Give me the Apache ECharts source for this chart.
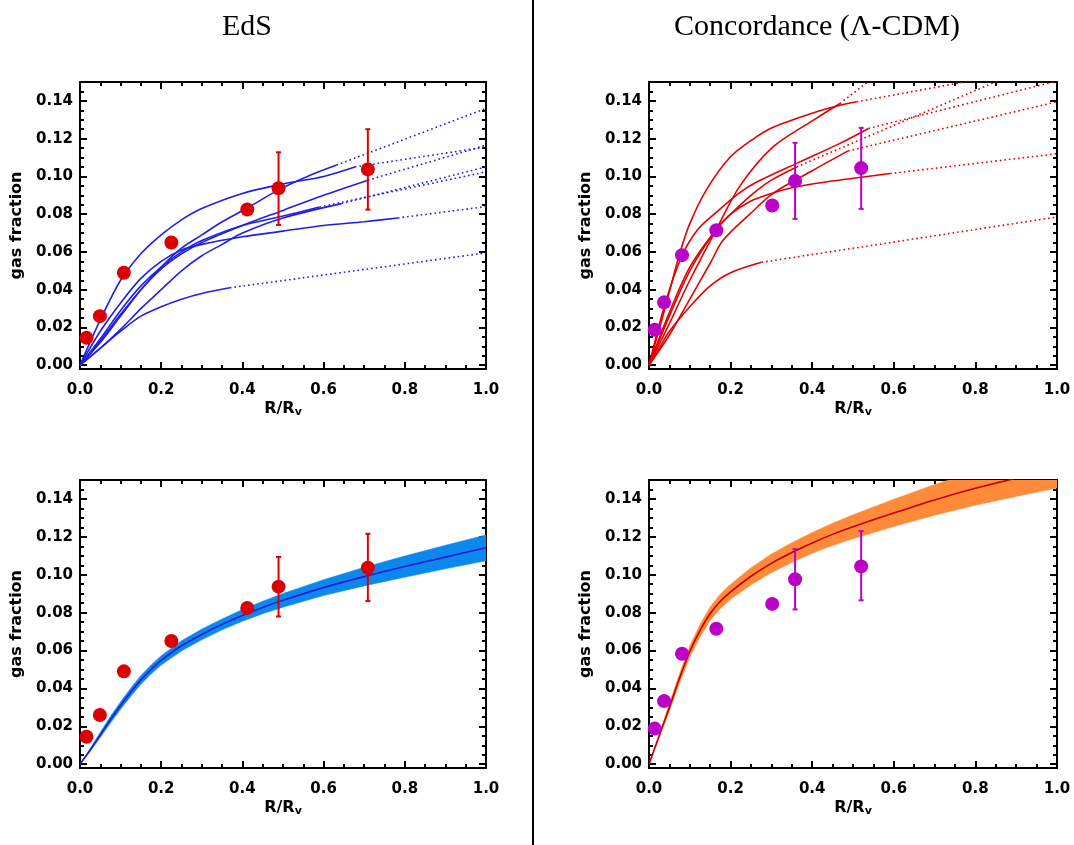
<!DOCTYPE html>
<html>
<head>
<meta charset="utf-8">
<script src="https://cdn.jsdelivr.net/npm/echarts@6/dist/echarts.min.js"></script>
<style>
html,body{margin:0;padding:0;background:#fff;}
#chart{width:1074px;height:845px;}
</style>
</head>
<body>
<div id="chart"></div>
<script>
// ---------------- DATA ----------------
const panelTitles = ['EdS', 'Concordance (\u039B-CDM)'];
const yTickValues = [0.00, 0.02, 0.04, 0.06, 0.08, 0.10, 0.12, 0.14];
const xTickLabels = ['0.0', '0.2', '0.4', '0.6', '0.8', '1.0'];

// EdS observed points
const edsX = [0.016, 0.049, 0.108, 0.225, 0.412, 0.489, 0.709];
const edsY = [0.0145, 0.026, 0.049, 0.065, 0.0825, 0.0937, 0.1037];
const edsErrTop = [[0.489, 0.0743, 0.1128], [0.709, 0.0824, 0.125]];
const edsErrBottom = [[0.489, 0.078, 0.1094], [0.709, 0.0861, 0.1216]];

// Concordance observed points
const concX = [0.014, 0.037, 0.081, 0.165, 0.302, 0.358, 0.52];
const concY = [0.0188, 0.0333, 0.0583, 0.0715, 0.0846, 0.0976, 0.1044];
const concErrTop = [[0.358, 0.0775, 0.1178], [0.52, 0.0828, 0.1257]];
const concErrBottom = [[0.358, 0.0817, 0.1135], [0.52, 0.0865, 0.1231]];

// EdS model curves (solid part) and their dotted extrapolations
const edsCurveA = [[0,0],[0.05,0.024],[0.1,0.045],[0.15,0.059],[0.2,0.069],[0.25,0.077],[0.3,0.083],[0.4,0.091],[0.5,0.096],[0.6,0.1],[0.677,0.105]];
const edsDotA = [[0.677,0.105],[1,0.1156]];
const edsCurveB = [[0,0],[0.05,0.012],[0.1,0.026],[0.15,0.04],[0.2,0.052],[0.25,0.062],[0.3,0.069],[0.35,0.076],[0.41,0.083],[0.49,0.093],[0.56,0.1],[0.632,0.106]];
const edsDotB = [[0.632,0.106],[1,0.136]];
const edsCurveC = [[0,0],[0.05,0.013],[0.1,0.027],[0.15,0.04],[0.2,0.051],[0.25,0.059],[0.3,0.065],[0.4,0.074],[0.5,0.082],[0.6,0.09],[0.709,0.098]];
const edsDotC = [[0.709,0.098],[1,0.1165]];
const edsCurveD = [[0,0],[0.05,0.009],[0.1,0.019],[0.15,0.03],[0.2,0.04],[0.25,0.05],[0.3,0.058],[0.35,0.064],[0.4,0.07],[0.5,0.078],[0.644,0.0856]];
const edsDotD = [[0.644,0.0856],[1,0.105]];
const edsCurveE = [[0,0],[0.05,0.014],[0.1,0.029],[0.15,0.042],[0.2,0.052],[0.25,0.06],[0.3,0.066],[0.4,0.074],[0.5,0.079],[0.59,0.0838]];
const edsDotE = [[0.59,0.0838],[1,0.1024]];
const edsCurveF = [[0,0],[0.05,0.018],[0.1,0.033],[0.15,0.046],[0.2,0.055],[0.25,0.061],[0.3,0.064],[0.4,0.068],[0.5,0.071],[0.6,0.074],[0.7,0.076],[0.783,0.078]];
const edsDotF = [[0.783,0.078],[1,0.084]];
const edsCurveG = [[0,0],[0.05,0.009],[0.1,0.018],[0.15,0.026],[0.2,0.031],[0.25,0.035],[0.3,0.038],[0.369,0.041]];
const edsDotG = [[0.369,0.041],[1,0.0595]];

// Concordance model curves and dotted extrapolations
const concCurve1 = [[0,0],[0.025,0.019],[0.05,0.039],[0.075,0.059],[0.1,0.075],[0.141,0.093],[0.198,0.11],[0.25,0.119],[0.304,0.126],[0.4,0.1335],[0.468,0.1377],[0.509,0.1395]];
const concDot1 = [[0.509,0.1395],[1,0.159]];
const concCurve2 = [[0,0],[0.05,0.022],[0.1,0.045],[0.165,0.072],[0.223,0.095],[0.304,0.1156],[0.403,0.1298],[0.468,0.1386]];
const concDot2 = [[0.468,0.1386],[0.56,0.154]];
const concCurve3 = [[0,0],[0.04,0.033],[0.081,0.058],[0.12,0.072],[0.165,0.081],[0.22,0.091],[0.264,0.097],[0.37,0.1077],[0.468,0.1175],[0.538,0.1254]];
const concDot3 = [[0.538,0.1254],[1,0.1505]];
const concCurve4 = [[0,0],[0.05,0.016],[0.1,0.035],[0.15,0.054],[0.181,0.066],[0.247,0.08],[0.304,0.091],[0.4,0.103],[0.488,0.1135]];
const concDot4 = [[0.488,0.1135],[1,0.1395]];
const concCurve5 = [[0,0],[0.05,0.026],[0.1,0.05],[0.165,0.072],[0.2,0.08],[0.25,0.09],[0.3,0.098],[0.362,0.105]];
const concDot5 = [[0.362,0.105],[1,0.164]];
const concCurve6 = [[0,0],[0.05,0.028],[0.1,0.052],[0.165,0.072],[0.2,0.08],[0.25,0.087],[0.3,0.091],[0.35,0.094],[0.4,0.096],[0.5,0.099],[0.591,0.1015]];
const concDot6 = [[0.591,0.1015],[1,0.112]];
const concCurve7 = [[0,0],[0.025,0.009],[0.05,0.018],[0.1,0.031],[0.15,0.042],[0.2,0.049],[0.276,0.0545]];
const concDot7 = [[0.276,0.0545],[1,0.0785]];

// Best-fit bands (bottom panels)
const bandX = [0, 0.025, 0.05, 0.075, 0.1, 0.125, 0.15, 0.175, 0.2, 0.25, 0.3, 0.35, 0.4, 0.45, 0.5, 0.6, 0.7, 0.8, 0.9, 1.0];
const edsFitMid = [0, 0.0075, 0.0155, 0.0235, 0.031, 0.038, 0.0445, 0.05, 0.0548, 0.0625, 0.0685, 0.0738, 0.0785, 0.0827, 0.0865, 0.0932, 0.099, 0.1043, 0.1093, 0.1142];
const edsFitHalfWidth = [0, 0.0008, 0.0014, 0.0018, 0.002, 0.0022, 0.0023, 0.0024, 0.0025, 0.0027, 0.0028, 0.0029, 0.0031, 0.0033, 0.0036, 0.0042, 0.0049, 0.0056, 0.0062, 0.0068];
const concFitMid = [0, 0.015, 0.03, 0.0455, 0.0595, 0.0705, 0.0795, 0.086, 0.091, 0.0992, 0.106, 0.1117, 0.1168, 0.1213, 0.1253, 0.1326, 0.1395, 0.1456, 0.151, 0.1562];
const concFitHalfWidth = [0, 0.001, 0.002, 0.0025, 0.003, 0.0033, 0.0036, 0.0038, 0.004, 0.0045, 0.0049, 0.0052, 0.0055, 0.0059, 0.0063, 0.0072, 0.0081, 0.0089, 0.0097, 0.0104];

// ---------------- STYLE / LAYOUT ----------------
const BLUE = '#1f1fe6', RED_LINE = '#e50000', RED_PT = '#dd0000', MAG = '#bb00c8';
const grids = [
  {left: 80, top: 82, width: 406, height: 287},
  {left: 649, top: 82, width: 408, height: 287},
  {left: 80, top: 480, width: 406, height: 288},
  {left: 649, top: 480, width: 408, height: 288}
];
const YMIN = -0.002, YMAX = 0.15;
const yMinorValues = [];
for (let i = 0; i <= 30; i++) yMinorValues.push(Math.round(i * 5) / 1000);
const tickFont = {color: '#000', fontFamily: 'DejaVu Sans', fontWeight: 'bold', fontSize: 15};

const xAxes = [], yAxes = [];
grids.forEach((g, gi) => {
  const common = {
    type: 'value', gridIndex: gi, min: 0, max: 1, interval: 0.2,
    axisLine: {show: true, onZero: false, lineStyle: {color: '#000', width: 2}},
    axisTick: {show: true, inside: true, length: 7, lineStyle: {color: '#000', width: 2}},
    minorTick: {show: true, splitNumber: 4, length: 4, lineStyle: {color: '#000', width: 2}},
    splitLine: {show: false}, minorSplitLine: {show: false}
  };
  xAxes.push(Object.assign({}, common, {
    position: 'bottom',
    axisLabel: Object.assign({show: true, margin: 14, formatter: v => xTickLabels[Math.round(v / 0.2)]}, tickFont),
    name: '{a|R/R}{s|v}', nameLocation: 'middle', nameGap: 30,
    nameTextStyle: {rich: {
      a: {fontFamily: 'DejaVu Sans', fontWeight: 'bold', fontSize: 16, color: '#000'},
      s: {fontFamily: 'DejaVu Sans', fontWeight: 'bold', fontSize: 11, color: '#000', verticalAlign: 'bottom', padding: [8, 0, 0, 0]}
    }}
  }));
  xAxes.push(Object.assign({}, common, {position: 'top', axisLabel: {show: false}}));
  const ycommon = {
    type: 'value', gridIndex: gi, min: YMIN, max: YMAX,
    splitLine: {show: false}
  };
  yAxes.push(Object.assign({}, ycommon, {
    position: 'left',
    axisLine: {show: true, onZero: false, lineStyle: {color: '#000', width: 2}},
    axisTick: {show: true, inside: true, length: 7, customValues: yTickValues, lineStyle: {color: '#000', width: 2}},
    axisLabel: Object.assign({show: true, margin: 7, customValues: yTickValues, formatter: v => v.toFixed(2)}, tickFont),
    name: 'gas fraction', nameLocation: 'middle', nameGap: 55, nameRotate: 90,
    nameTextStyle: {fontFamily: 'DejaVu Sans', fontWeight: 'bold', fontSize: 16, color: '#000'}
  }));
  yAxes.push(Object.assign({}, ycommon, {
    position: 'left',
    axisLine: {show: false, onZero: false},
    axisTick: {show: true, inside: true, length: 4, customValues: yMinorValues, lineStyle: {color: '#000', width: 2}},
    axisLabel: {show: false}
  }));
  yAxes.push(Object.assign({}, ycommon, {
    position: 'right',
    axisLine: {show: true, onZero: false, lineStyle: {color: '#000', width: 2}},
    axisTick: {show: true, inside: true, length: 7, customValues: yTickValues, lineStyle: {color: '#000', width: 2}},
    axisLabel: {show: false}
  }));
  yAxes.push(Object.assign({}, ycommon, {
    position: 'right',
    axisLine: {show: false, onZero: false},
    axisTick: {show: true, inside: true, length: 4, customValues: yMinorValues, lineStyle: {color: '#000', width: 2}},
    axisLabel: {show: false}
  }));
});

const series = [];
function curve(gi, data, color, dotted) {
  series.push({
    type: 'line', xAxisIndex: 2 * gi, yAxisIndex: 4 * gi, data: data,
    showSymbol: false, symbol: 'none', smooth: dotted ? false : 0.3,
    lineStyle: {color: color, width: 1.6, type: dotted ? [1.6, 3] : 'solid'},
    silent: true, clip: true, z: 2
  });
}
function points(gi, xs, ys, color) {
  series.push({
    type: 'scatter', xAxisIndex: 2 * gi, yAxisIndex: 4 * gi,
    data: xs.map((x, i) => [x, ys[i]]), symbol: 'circle', symbolSize: 14,
    itemStyle: {color: color, opacity: 1}, z: 5
  });
}
function errbars(gi, data, color) {
  series.push({
    type: 'custom', xAxisIndex: 2 * gi, yAxisIndex: 4 * gi, data: data, z: 4,
    encode: {x: 0, y: [1, 2]},
    renderItem: function (params, api) {
      const x = api.value(0);
      const lo = api.coord([x, api.value(1)]);
      const hi = api.coord([x, api.value(2)]);
      const cap = 2.5;
      const st = {stroke: color, lineWidth: 2};
      return {type: 'group', children: [
        {type: 'line', shape: {x1: lo[0], y1: lo[1], x2: hi[0], y2: hi[1]}, style: st},
        {type: 'line', shape: {x1: lo[0] - cap, y1: lo[1], x2: lo[0] + cap, y2: lo[1]}, style: st},
        {type: 'line', shape: {x1: hi[0] - cap, y1: hi[1], x2: hi[0] + cap, y2: hi[1]}, style: st}
      ]};
    }
  });
}
function band(gi, mid, half, bandColor, lineColor) {
  const data = bandX.map((x, i) => [x, mid[i] - half[i], mid[i] + half[i]]);
  series.push({
    type: 'custom', xAxisIndex: 2 * gi, yAxisIndex: 4 * gi, data: data, clip: true, silent: true, z: 1,
    encode: {x: 0, y: [1, 2]},
    renderItem: function (params, api) {
      if (params.dataIndexInside !== 0) return null;
      const n = params.dataInsideLength;
      const upper = [], lower = [];
      for (let i = 0; i < n; i++) {
        const x = api.value(0, i);
        lower.push(api.coord([x, api.value(1, i)]));
        upper.push(api.coord([x, api.value(2, i)]));
      }
      const pts = lower.concat(upper.reverse());
      return {type: 'polygon', shape: {points: pts, smooth: 0}, style: {fill: bandColor, stroke: bandColor, lineWidth: 0.5}};
    }
  });
  series.push({
    type: 'line', xAxisIndex: 2 * gi, yAxisIndex: 4 * gi, data: bandX.map((x, i) => [x, mid[i]]),
    showSymbol: false, symbol: 'none', smooth: 0.3, lineStyle: {color: lineColor, width: 1.6}, silent: true, z: 2
  });
}

// Top-left: EdS models
[[edsCurveA, edsDotA], [edsCurveB, edsDotB], [edsCurveC, edsDotC], [edsCurveD, edsDotD],
 [edsCurveE, edsDotE], [edsCurveF, edsDotF], [edsCurveG, edsDotG]].forEach(p => {
  curve(0, p[0], BLUE, false); curve(0, p[1], BLUE, true);
});
errbars(0, edsErrTop, RED_PT);
points(0, edsX, edsY, RED_PT);

// Top-right: Concordance models
[[concCurve1, concDot1], [concCurve2, concDot2], [concCurve3, concDot3], [concCurve4, concDot4],
 [concCurve5, concDot5], [concCurve6, concDot6], [concCurve7, concDot7]].forEach(p => {
  curve(1, p[0], RED_LINE, false); curve(1, p[1], RED_LINE, true);
});
errbars(1, concErrTop, MAG);
points(1, concX, concY, MAG);

// Bottom-left
band(2, edsFitMid, edsFitHalfWidth, '#0a88ee', '#2a1ad0');
errbars(2, edsErrBottom, RED_PT);
points(2, edsX, edsY, RED_PT);

// Bottom-right
band(3, concFitMid, concFitHalfWidth, '#ff8a3a', '#c40000');
errbars(3, concErrBottom, MAG);
points(3, concX, concY, MAG);

const chart = echarts.init(document.getElementById('chart'), null, {renderer: 'canvas'});
chart.setOption({
  animation: false,
  backgroundColor: '#fff',
  grid: grids,
  xAxis: xAxes,
  yAxis: yAxes,
  series: series,
  graphic: [
    {type: 'line', shape: {x1: 533, y1: 0, x2: 533, y2: 845}, style: {stroke: '#000', lineWidth: 2}},
    {type: 'text', x: 247, y: 27, style: {text: panelTitles[0], font: '30px "Liberation Serif"', fill: '#000', align: 'center', verticalAlign: 'middle'}},
    {type: 'text', x: 817, y: 27, style: {text: panelTitles[1], font: '30px "Liberation Serif"', fill: '#000', align: 'center', verticalAlign: 'middle'}}
  ]
});
</script>
</body>
</html>
